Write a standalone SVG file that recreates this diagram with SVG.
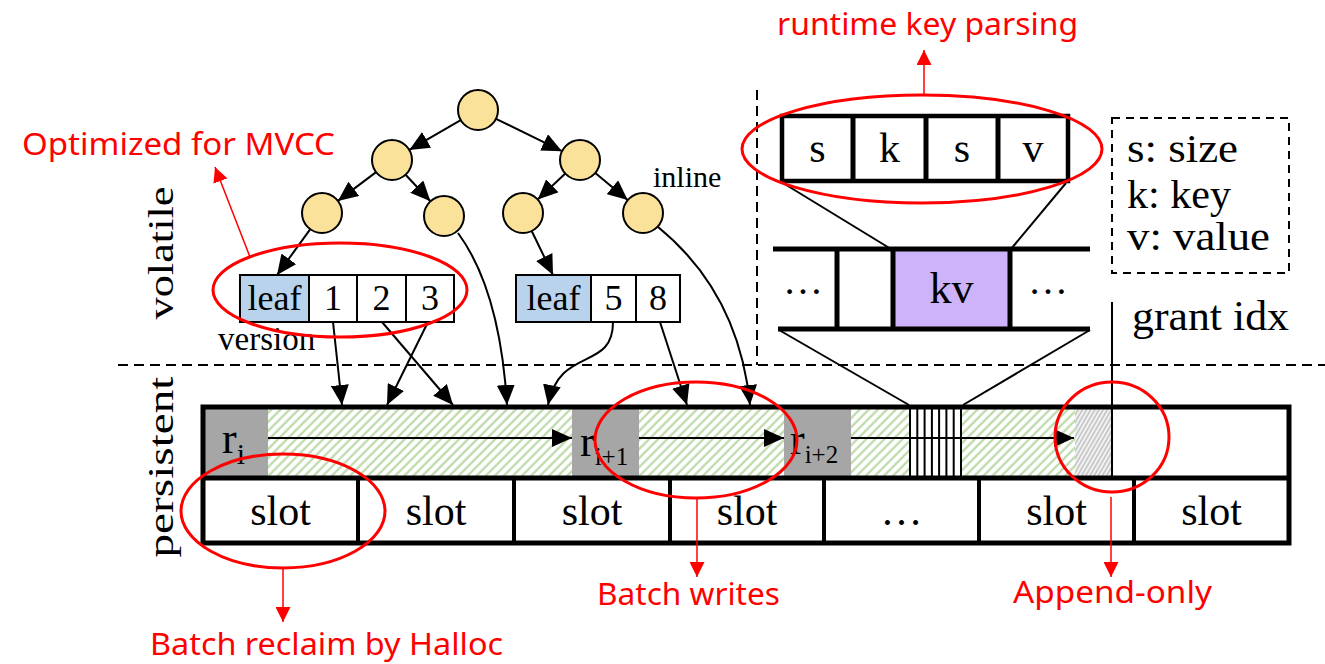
<svg xmlns="http://www.w3.org/2000/svg" width="1325" height="664" viewBox="0 0 1325 664">
  <style>
    .ser { font-family: "Liberation Serif", "Times New Roman", serif; fill: #000; }
    .red { font-family: "Noto Sans", "Open Sans", sans-serif; fill: #ff0000; font-size: 31px; }
    .node { fill: #fae29a; stroke: #000; stroke-width: 2; }
    .cell { fill: #fff; stroke: #000; stroke-width: 2; }
    .leafcell { fill: #b9d3ec; stroke: #000; stroke-width: 2; }
    .edge { stroke: #000; stroke-width: 2; fill: none; marker-end: url(#ah); }
    .thin { stroke: #000; stroke-width: 2; fill: none; }
    .thick { stroke: #000; stroke-width: 5; fill: none; }
    .dash { stroke: #000; stroke-width: 2; fill: none; stroke-dasharray: 10 6; }
    .ring { fill: none; stroke: #ff0000; stroke-width: 3; }
    .redl { stroke: #ff0000; stroke-width: 1.5; fill: none; marker-end: url(#rah); }
  </style>
  <defs>
    <marker id="ah" markerUnits="userSpaceOnUse" markerWidth="20" markerHeight="18" refX="20" refY="9" orient="auto">
      <path d="M0,0 L20,9 L0,18 z" fill="#000"/>
    </marker>
    <marker id="rah" markerUnits="userSpaceOnUse" markerWidth="15" markerHeight="15" refX="15" refY="7.5" orient="auto">
      <path d="M0,0 L15,7.5 L0,15 z" fill="#ff0000"/>
    </marker>
    <pattern id="greenHatch" patternUnits="userSpaceOnUse" width="6.4" height="6.4" patternTransform="rotate(45)">
      <rect width="6.4" height="6.4" fill="#fff"/>
      <line x1="1.5" y1="0" x2="1.5" y2="6.4" stroke="#bcd9a8" stroke-width="2.2"/>
    </pattern>
    <pattern id="grayHatch" patternUnits="userSpaceOnUse" width="3.6" height="3.6" patternTransform="rotate(30)">
      <rect width="3.6" height="3.6" fill="#f2f2f2"/>
      <line x1="1" y1="0" x2="1" y2="3.6" stroke="#b4b4b4" stroke-width="1.2"/>
    </pattern>
  </defs>

  <!-- region separators -->
  <g id="separators">
    <line class="dash" x1="118" y1="365" x2="1325" y2="365"/>
    <line class="dash" x1="757" y1="90" x2="757" y2="365"/>
  </g>

  <!-- side labels -->
  <g id="side-labels">
    <text class="ser" font-size="36" text-anchor="middle" textLength="133" lengthAdjust="spacingAndGlyphs" transform="translate(173,253) rotate(-90)">volatile</text>
    <text class="ser" font-size="36" text-anchor="middle" textLength="181" lengthAdjust="spacingAndGlyphs" transform="translate(173,467) rotate(-90)">persistent</text>
  </g>

  <!-- index tree -->
  <g id="tree">
    <circle id="n-root" class="node" cx="478" cy="110" r="20"/>
    <circle id="n-l1l" class="node" cx="392" cy="160" r="20"/>
    <circle id="n-l1r" class="node" cx="580" cy="160" r="20"/>
    <circle id="n-ll" class="node" cx="322" cy="213" r="20"/>
    <circle id="n-lr" class="node" cx="444" cy="216" r="20"/>
    <circle id="n-rl" class="node" cx="523" cy="213" r="20"/>
    <circle id="n-rr" class="node" cx="643" cy="213" r="20"/>
    <text class="ser" font-size="30" x="653" y="187">inline</text>
  </g>

  <g id="leaf-a">
    <rect class="leafcell" x="240" y="275" width="69" height="47"/>
    <rect class="cell" x="309" y="275" width="48" height="47"/>
    <rect class="cell" x="357" y="275" width="49" height="47"/>
    <rect class="cell" x="406" y="275" width="48" height="47"/>
    <g class="ser" font-size="36" text-anchor="middle">
      <text x="274.5" y="310">leaf</text>
      <text x="333" y="310">1</text>
      <text x="381.5" y="310">2</text>
      <text x="430" y="310">3</text>
    </g>
    <text class="ser" font-size="33" x="218" y="350">version</text>
  </g>

  <g id="leaf-b">
    <rect class="leafcell" x="516" y="275" width="75" height="47"/>
    <rect class="cell" x="591" y="275" width="45" height="47"/>
    <rect class="cell" x="636" y="275" width="44" height="47"/>
    <g class="ser" font-size="36" text-anchor="middle">
      <text x="553.5" y="310">leaf</text>
      <text x="613.5" y="310">5</text>
      <text x="658" y="310">8</text>
    </g>
  </g>

  <!-- record layout -->
  <g id="record-layout">
    <rect x="782" y="116" width="286" height="65" fill="#fff" stroke="#000" stroke-width="4.5"/>
    <line class="thick" x1="853" y1="116" x2="853" y2="181" stroke-width="4"/>
    <line class="thick" x1="926" y1="116" x2="926" y2="181" stroke-width="4"/>
    <line class="thick" x1="998" y1="116" x2="998" y2="181" stroke-width="4"/>
    <g class="ser" font-size="42" text-anchor="middle">
      <text x="817.5" y="162">s</text>
      <text x="889.5" y="162">k</text>
      <text x="962" y="162">s</text>
      <text x="1033" y="162">v</text>
    </g>
  </g>

  <g id="legend">
    <rect x="1112" y="118" width="177" height="155" fill="none" stroke="#000" stroke-width="2" stroke-dasharray="8 6"/>
    <g class="ser" font-size="40">
      <text x="1127" y="162" textLength="111" lengthAdjust="spacingAndGlyphs">s: size</text>
      <text x="1127" y="208" textLength="104" lengthAdjust="spacingAndGlyphs">k: key</text>
      <text x="1127" y="250" textLength="143" lengthAdjust="spacingAndGlyphs">v: value</text>
    </g>
  </g>

  <!-- log buffer -->
  <g id="log-buffer">
    <rect x="893" y="249" width="117" height="80" fill="#cdb4fa"/>
    <line class="thick" x1="773" y1="249" x2="1090" y2="249"/>
    <line class="thick" x1="778" y1="329" x2="1090" y2="329"/>
    <line class="thick" x1="837" y1="249" x2="837" y2="329" stroke-width="4"/>
    <line class="thick" x1="893" y1="249" x2="893" y2="329" stroke-width="4"/>
    <line class="thick" x1="1010" y1="249" x2="1010" y2="329" stroke-width="4"/>
    <text class="ser" font-size="44" x="951.5" y="303" text-anchor="middle">kv</text>
    <text class="ser" font-size="40" x="783" y="294">…</text>
    <text class="ser" font-size="40" x="1028" y="294">…</text>
    <text class="ser" font-size="42" x="1132" y="330" textLength="157" lengthAdjust="spacingAndGlyphs">grant idx</text>
  </g>

  <!-- persistent log -->
  <g id="persistent-log">
    <rect x="203" y="407" width="1086" height="71" fill="#fff"/>
    <rect x="203" y="407" width="65" height="71" fill="#a6a6a6"/>
    <rect x="268" y="407" width="304" height="71" fill="url(#greenHatch)"/>
    <rect x="572" y="407" width="67" height="71" fill="#a6a6a6"/>
    <rect x="639" y="407" width="145" height="71" fill="url(#greenHatch)"/>
    <rect x="784" y="407" width="67" height="71" fill="#a6a6a6"/>
    <rect x="851" y="407" width="59" height="71" fill="url(#greenHatch)"/>
    <rect x="962" y="407" width="113" height="71" fill="url(#greenHatch)"/>
    <rect x="1075" y="407" width="37" height="71" fill="url(#grayHatch)"/>
    <g stroke="#000" stroke-width="2">
      <line x1="910" y1="407" x2="910" y2="478"/>
      <line x1="917.3" y1="407" x2="917.3" y2="478"/>
      <line x1="924.6" y1="407" x2="924.6" y2="478"/>
      <line x1="931.9" y1="407" x2="931.9" y2="478"/>
      <line x1="939.1" y1="407" x2="939.1" y2="478"/>
      <line x1="946.4" y1="407" x2="946.4" y2="478"/>
      <line x1="953.7" y1="407" x2="953.7" y2="478"/>
      <line x1="961" y1="407" x2="961" y2="478"/>
    </g>
    <text class="ser" font-size="44" x="222" y="453">r<tspan font-size="30" dy="11">i</tspan></text>
    <text class="ser" font-size="44" x="580" y="456">r<tspan font-size="25" dy="9">i+1</tspan></text>
    <text class="ser" font-size="44" x="790" y="454">r<tspan font-size="25" dy="9">i+2</tspan></text>
    <line class="edge" x1="268" y1="438" x2="572" y2="438"/>
    <line class="edge" x1="639" y1="438" x2="784" y2="438"/>
    <line class="edge" x1="851" y1="438" x2="1074" y2="438"/>
    <line class="thin" x1="1112" y1="302" x2="1112" y2="477"/>
    <rect x="203" y="407" width="1086" height="136" fill="none" stroke="#000" stroke-width="5"/>
    <line class="thick" x1="203" y1="478" x2="1289" y2="478"/>
  </g>

  <g id="slots">
    <g stroke="#000" stroke-width="4">
      <line x1="358" y1="478" x2="358" y2="543"/>
      <line x1="514" y1="478" x2="514" y2="543"/>
      <line x1="670" y1="478" x2="670" y2="543"/>
      <line x1="824" y1="478" x2="824" y2="543"/>
      <line x1="979" y1="478" x2="979" y2="543"/>
      <line x1="1134" y1="478" x2="1134" y2="543"/>
    </g>
    <g class="ser" font-size="42" text-anchor="middle">
      <text x="280.5" y="525">slot</text>
      <text x="436" y="525">slot</text>
      <text x="592" y="525">slot</text>
      <text x="747" y="525">slot</text>
      <text x="901.5" y="525">…</text>
      <text x="1056.5" y="525">slot</text>
      <text x="1211.5" y="525">slot</text>
    </g>
  </g>

  <!-- connectors -->
  <g id="connectors">
    <line class="edge" x1="460.7" y1="120.1" x2="409.3" y2="149.9"/>
    <line class="edge" x1="496" y1="118.8" x2="562" y2="151.2"/>
    <line class="edge" x1="376.1" y1="172.1" x2="337.9" y2="200.9"/>
    <line class="edge" x1="405.6" y1="174.7" x2="430.4" y2="201.3"/>
    <line class="edge" x1="565.3" y1="173.6" x2="537.7" y2="199.4"/>
    <line class="edge" x1="595.3" y1="172.9" x2="627.7" y2="200.1"/>
    <line class="edge" x1="310.3" y1="229.2" x2="277" y2="275"/>
    <line class="edge" x1="531.7" y1="231" x2="553" y2="275"/>
    <line class="edge" x1="333" y1="322" x2="342" y2="405"/>
    <line class="edge" x1="382" y1="322" x2="453" y2="405"/>
    <line class="edge" x1="428" y1="322" x2="387" y2="405"/>
    <path class="edge" d="M458,233 Q500,290 507,405"/>
    <path class="edge" d="M613,322 C613,372 560,345 548,405"/>
    <line class="edge" x1="660" y1="322" x2="687" y2="405"/>
    <path class="edge" d="M658,227 Q739,293 750,405"/>
    <line class="thin" x1="783" y1="183" x2="891" y2="249"/>
    <line class="thin" x1="1066" y1="183" x2="1011" y2="249"/>
    <line class="thin" x1="779" y1="330" x2="909" y2="405"/>
    <line class="thin" x1="1090" y1="330" x2="963" y2="405"/>
  </g>

  <!-- annotations -->
  <g id="annotations">
    <ellipse class="ring" cx="340" cy="290" rx="127" ry="47"/>
    <ellipse class="ring" cx="922" cy="149" rx="180" ry="54"/>
    <ellipse class="ring" cx="283" cy="511" rx="102" ry="57"/>
    <ellipse class="ring" cx="696" cy="440" rx="101" ry="58"/>
    <ellipse class="ring" cx="1112" cy="437" rx="57" ry="55"/>
    <line class="redl" x1="250" y1="257" x2="215" y2="167"/>
    <line class="redl" x1="924" y1="95" x2="924" y2="50"/>
    <line class="redl" x1="283" y1="568" x2="283" y2="622"/>
    <line class="redl" x1="697" y1="498" x2="697" y2="577"/>
    <line class="redl" x1="1111" y1="497" x2="1111" y2="577"/>
    <text class="red" x="22" y="155" textLength="313" lengthAdjust="spacingAndGlyphs">Optimized for MVCC</text>
    <text class="red" x="777" y="35" textLength="301" lengthAdjust="spacingAndGlyphs">runtime key parsing</text>
    <text class="red" x="150" y="655" textLength="353" lengthAdjust="spacingAndGlyphs">Batch reclaim by Halloc</text>
    <text class="red" x="597" y="605" textLength="183" lengthAdjust="spacingAndGlyphs">Batch writes</text>
    <text class="red" x="1013" y="603" textLength="199" lengthAdjust="spacingAndGlyphs">Append-only</text>
  </g>
</svg>
